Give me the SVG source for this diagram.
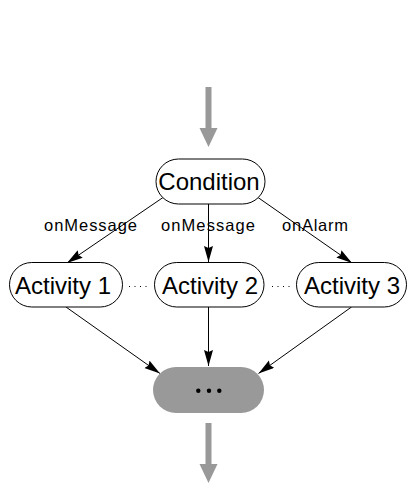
<svg xmlns="http://www.w3.org/2000/svg" width="412" height="488" viewBox="0 0 412 488">
<defs>
<style>
.node rect{fill:#fff;stroke:#000;stroke-width:1}
.big{font-family:"Liberation Sans",Arial,sans-serif;font-size:24px;text-anchor:middle;fill:#000}
.lbl{font-family:"Liberation Sans",Arial,sans-serif;font-size:16.5px;fill:#000}
.edge{stroke:#000;stroke-width:1;fill:none;marker-end:url(#ah)}
.gray{fill:#999}
.dots{stroke:#000;stroke-width:1;stroke-dasharray:1 4.5}
</style>
<marker id="ah" markerUnits="userSpaceOnUse" markerWidth="17" markerHeight="10" refX="16" refY="4.5" orient="auto">
<path d="M0,0 L16,4.5 L0,9 L2,4.5 z" fill="#000"/>
</marker>
</defs>
<rect width="412" height="488" fill="#fff"/>
<g id="entry-arrow">
<path class="gray" d="M205.5,87 H211.5 V128 H217.5 L208.5,147 L199.5,128 H205.5 Z"/>
</g>
<g id="exit-arrow">
<path class="gray" d="M205.5,423 H211.5 V464 H217.5 L208.5,483 L199.5,464 H205.5 Z"/>
</g>
<g id="connectors">
<line class="edge" x1="163" y1="197.5" x2="67" y2="263"/>
<line class="edge" x1="208.5" y1="204" x2="208.5" y2="262"/>
<line class="edge" x1="258" y1="197.5" x2="352" y2="263"/>
<line class="edge" x1="66" y1="307" x2="160" y2="373.5"/>
<line class="edge" x1="208.5" y1="307" x2="208.5" y2="366"/>
<line class="edge" x1="351.5" y1="307" x2="258.5" y2="373.5"/>
<line class="dots" x1="129" y1="286.5" x2="148" y2="286.5"/>
<line class="dots" x1="272" y1="286.5" x2="291" y2="286.5"/>
<text class="lbl" x="44" y="231" textLength="93">onMessage</text>
<text class="lbl" x="161" y="231" textLength="94">onMessage</text>
<text class="lbl" x="282" y="231" textLength="66">onAlarm</text>
</g>
<g id="condition" class="node">
<rect x="156" y="159" width="109" height="45" rx="22.5"/>
<text class="big" x="209" y="190">Condition</text>
</g>
<g id="activity1" class="node">
<rect x="9.5" y="262.5" width="113" height="44.5" rx="22.25"/>
<text class="big" x="63" y="294">Activity 1</text>
</g>
<g id="activity2" class="node">
<rect x="154.5" y="262.5" width="109.5" height="44.5" rx="22.25"/>
<text class="big" x="210" y="294">Activity 2</text>
</g>
<g id="activity3" class="node">
<rect x="296.5" y="262.5" width="110" height="44.5" rx="22.25"/>
<text class="big" x="352" y="294">Activity 3</text>
</g>
<g id="join">
<rect class="gray" x="153" y="367" width="111" height="46" rx="23"/>
<circle cx="198.3" cy="390.7" r="2.2" fill="#000"/>
<circle cx="209" cy="390.7" r="2.2" fill="#000"/>
<circle cx="219.3" cy="390.7" r="2.2" fill="#000"/>
</g>
</svg>
